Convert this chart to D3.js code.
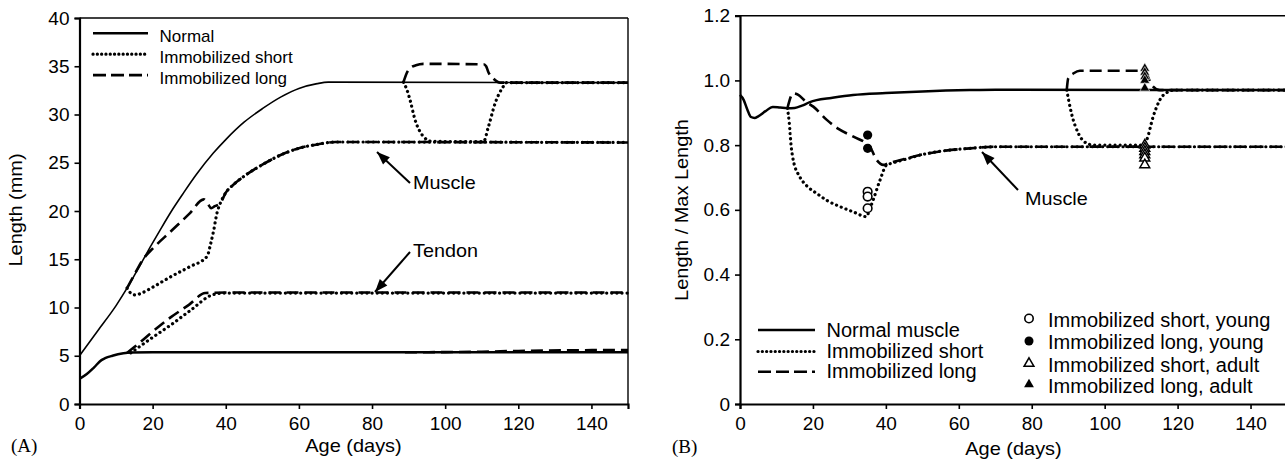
<!DOCTYPE html>
<html><head><meta charset="utf-8">
<script src="https://cdn.jsdelivr.net/npm/d3@7"></script>
<style>body{margin:0;background:#fff}svg{display:block}text{font-family:"Liberation Sans",Arial,sans-serif;fill:#000}</style>
</head><body>
<svg id="c" width="1285" height="459"></svg>
<script>
// ---------- Panel A data (Age days, Length mm) ----------
const normalMuscleA = [[0,5.0],[5,7.6],[10,10.2],[13,12.0],[16,14.0],[19.4,16.3],[22,18.0],[25,19.9],[28.5,21.9],[32,23.8],[36.6,26.0],[40,27.4],[45,29.2],[50,30.6],[55,31.8],[60,32.7],[65,33.2],[68,33.35],[150,33.3]];
const shortYoungA = [[13,12.0],[14,11.5],[15.3,11.3],[17,11.5],[20,12.1],[25,13.2],[30,14.2],[34.9,15.3],[35.8,16.5],[36.7,18.0],[37.6,19.8],[38.5,20.8],[40,21.9],[42,22.7],[45,23.6],[50,24.8],[55,25.8],[60,26.5],[65,26.9],[70,27.15],[150,27.1]];
const longYoungA = [[13,12.0],[15,13.4],[17.6,15.1],[20,16.1],[25,17.9],[30,19.7],[34,21.2],[35,20.8],[36,20.3],[37,20.5],[38.5,20.8],[40,21.9],[42,22.7],[45,23.6],[50,24.8],[55,25.8],[60,26.5],[65,26.9],[70,27.15],[150,27.1]];
const shortAdultA = [[88.6,33.35],[89.5,32.6],[90.4,31.5],[91.8,29.4],[93,28.3],[94.1,27.7],[95.9,27.25],[100,27.2],[110.5,27.2],[111.8,28.7],[113.7,31.2],[115.9,32.9],[116.8,33.3],[150,33.3]];
const longAdultA = [[88.6,33.35],[89.5,34.3],[90.4,34.8],[92,35.1],[94,35.25],[110.5,35.2],[111.2,35.0],[111.8,34.4],[113,33.8],[115,33.3],[150,33.3]];
const normalTendonA = [[0,2.6],[2,3.1],[4,3.8],[6,4.55],[7,4.75],[9,5.0],[12,5.25],[14,5.33],[20,5.35],[150,5.35]];
const shortTendonA = [[14,5.3],[20,6.9],[25,8.2],[30,9.6],[36.7,11.35],[40,11.5],[150,11.5]];
const longTendonA = [[13,5.3],[15,5.9],[20,7.5],[25,9.0],[30,10.3],[34.4,11.5],[40,11.55],[150,11.55]];
const longAdultTendonA = [[89,5.36],[100,5.38],[110,5.42],[120,5.5],[150,5.6]];
const xTicksA = [0,20,40,60,80,100,120,140];
const yTicksA = [0,5,10,15,20,25,30,35,40];

// ---------- Panel B data (Age days, Length / Max Length) ----------
const normalB = [[0,0.955],[1,0.94],[2,0.91],[3,0.887],[4,0.884],[5,0.889],[7,0.905],[9,0.918],[11,0.916],[13,0.914],[15,0.915],[17,0.922],[19,0.932],[21,0.939],[25,0.946],[31,0.955],[40,0.961],[50,0.966],[63,0.970],[70,0.971],[150,0.970]];
const shortYoungB = [[13,0.914],[13.5,0.87],[14,0.80],[14.6,0.754],[16.4,0.702],[18.5,0.672],[21,0.651],[24,0.628],[27.4,0.610],[31,0.594],[34.7,0.579],[35.5,0.60],[36.5,0.63],[38.4,0.692],[40.2,0.739],[41,0.742],[45,0.755],[50,0.771],[55,0.781],[63,0.79],[70,0.795],[150,0.795]];
const longYoungB = [[13,0.914],[14.6,0.96],[16,0.955],[18,0.935],[20.1,0.919],[23.8,0.878],[27,0.85],[31.1,0.826],[35.6,0.795],[37.5,0.754],[39.3,0.739],[40.7,0.744],[45,0.757],[50,0.771],[55,0.781],[63,0.79],[70,0.795],[150,0.795]];
const shortAdultB = [[89.6,0.970],[90.9,0.898],[92.8,0.836],[95,0.806],[97,0.8],[110,0.8],[111.5,0.816],[113.3,0.888],[115.1,0.939],[117.4,0.965],[119,0.97],[150,0.97]];
const longAdultB = [[89.6,0.970],[90,1.006],[91.5,1.022],[93.2,1.030],[108.7,1.030],[110.5,1.03],[111.5,1.02],[112.9,0.986],[115.1,0.970],[150,0.970]];
const shortYoungPts = [[35,0.656],[35,0.641],[35,0.605]];
const longYoungPts = [[35,0.831],[35,0.790]];
const shortAdultPts = [[111,0.80],[111,0.79],[111,0.78],[111,0.77],[111,0.76],[111,0.739]];
const longAdultPts = [[111,1.037],[111,1.025],[111,1.012],[111,1.0],[111,0.976]];
const xTicksB = [0,20,40,60,80,100,120,140];
const yTicksB = [0,0.2,0.4,0.6,0.8,1.0,1.2];

const legendA = ["Normal","Immobilized short","Immobilized long"];
const legendB = ["Normal muscle","Immobilized short","Immobilized long"];
const legendPts = ["Immobilized short, young","Immobilized long, young","Immobilized short, adult","Immobilized long, adult"];

const svg = d3.select("#c");
const STY = {
  solid:{dash:null,w:2,cap:"butt"},
  thin:{dash:null,w:1.6,cap:"butt"},
  thick:{dash:null,w:2.5,cap:"butt"},
  dot:{dash:"0.1,5",w:3.2,cap:"round"},
  dash:{dash:"12,6",w:2.6,cap:"butt"}
};
function txt(g,x,y,s,size,anchor,sx,family,rot){
  const t=g.append("text").attr("font-size",size).attr("text-anchor",anchor||"start")
    .attr("transform",`translate(${x},${y})`+(rot?` rotate(${rot})`:"")+` scale(${sx||1},1)`).text(s);
  if(family) t.style("font-family",family);
  return t;
}
function drawLine(g,x,y,data,st){
  const s=STY[st];
  const line=d3.line().x(d=>x(d[0])).y(d=>y(d[1])).curve(d3.curveMonotoneX);
  const p=g.append("path").datum(data).attr("d",line).attr("fill","none").attr("stroke","#000")
    .attr("stroke-width",s.w).attr("stroke-linecap",s.cap).attr("stroke-linejoin","round");
  if(s.dash) p.attr("stroke-dasharray",s.dash);
}
function frame(g,x,y,xt,yt,fmt){
  const [x0,x1]=x.range(), [y0,y1]=y.range();
  g.append("line").attr("x1",x0).attr("x2",x1).attr("y1",y1).attr("y2",y1).attr("stroke","#000").attr("stroke-width",1.4);
  g.append("line").attr("x1",x1).attr("x2",x1).attr("y1",y1).attr("y2",y0).attr("stroke","#000").attr("stroke-width",1.4);
  const ax=g.append("g").attr("transform",`translate(0,${y0})`).call(d3.axisBottom(x).tickValues(xt).tickSize(5).tickPadding(4));
  const ay=g.append("g").attr("transform",`translate(${x0},0)`).call(d3.axisLeft(y).tickValues(yt).tickSize(5).tickPadding(5).tickFormat(fmt));
  [ax,ay].forEach(a=>{a.select(".domain").attr("stroke-width",2.2);a.selectAll(".tick line").attr("stroke-width",1.6);
    a.selectAll("text").attr("font-size",19).style("font-family","'Liberation Sans',Arial,sans-serif");});
  ax.selectAll("text").attr("dy","0.9em");
}
function arrow(g,x1,y1,x2,y2){
  g.append("line").attr("x1",x1).attr("y1",y1).attr("x2",x2).attr("y2",y2).attr("stroke","#000").attr("stroke-width",2);
  const a=Math.atan2(y2-y1,x2-x1), L=13, W=5;
  const bx=x2-L*Math.cos(a), by=y2-L*Math.sin(a);
  const px=-Math.sin(a)*W, py=Math.cos(a)*W;
  g.append("path").attr("d",`M${x2},${y2}L${bx+px},${by+py}L${bx-px},${by-py}Z`).attr("fill","#000");
}

// ---------- Panel A ----------
{
  const g=svg.append("g");
  const x=d3.scaleLinear().domain([0,150]).range([79.5,628]);
  const y=d3.scaleLinear().domain([0,40]).range([404,18]);
  frame(g,x,y,xTicksA,yTicksA,d3.format("d"));
  drawLine(g,x,y,normalMuscleA,"thin");
  drawLine(g,x,y,normalTendonA,"thick");
  drawLine(g,x,y,shortYoungA,"dot");
  drawLine(g,x,y,shortAdultA,"dot");
  drawLine(g,x,y,shortTendonA,"dot");
  drawLine(g,x,y,longYoungA,"dash");
  drawLine(g,x,y,longAdultA,"dash");
  drawLine(g,x,y,longTendonA,"dash");
  drawLine(g,x,y,longAdultTendonA,"dash");
  // legend
  ["solid","dot","dash"].forEach((st,i)=>{
    const yy=33.3+i*20.9, s=STY[st];
    const l=g.append("line").attr("x1",93).attr("x2",148).attr("y1",yy).attr("y2",yy).attr("stroke","#000")
      .attr("stroke-width",st==="solid"?2.6:s.w).attr("stroke-linecap",s.cap);
    if(s.dash) l.attr("stroke-dasharray",st==="dot"?"0.1,4.2":"13,5");
    txt(g,159.5,yy+8.8,legendA[i],17);
  });
  arrow(g,410,183,377,152);
  txt(g,413,188.5,"Muscle",18,"start",1.1);
  arrow(g,410,252,375,292);
  txt(g,413,256.5,"Tendon",18,"start",1.1);
  txt(g,353.5,452,"Age (days)",19,"middle",1.05);
  txt(g,22,210,"Length (mm)",19,"middle",1.05,null,-90);
  txt(g,11,452,"(A)",19,"start",1,"'Liberation Serif','Times New Roman',serif");
}
// ---------- Panel B ----------
{
  const g=svg.append("g");
  const x=d3.scaleLinear().domain([0,150]).range([740,1287]);
  const y=d3.scaleLinear().domain([0,1.2]).range([404,15.7]);
  frame(g,x,y,xTicksB,yTicksB,d=>d===0?"0":d3.format(".1f")(d));
  drawLine(g,x,y,normalB,"thick");
  drawLine(g,x,y,shortYoungB,"dot");
  drawLine(g,x,y,shortAdultB,"dot");
  drawLine(g,x,y,longYoungB,"dash");
  drawLine(g,x,y,longAdultB,"dash");
  const tri=d3.symbol().type(d3.symbolTriangle).size(42);
  g.selectAll(".oc").data(shortYoungPts).join("circle").attr("cx",d=>x(d[0])).attr("cy",d=>y(d[1])).attr("r",4.3).attr("fill","#fff").attr("stroke","#000").attr("stroke-width",1.6);
  g.selectAll(".fc").data(longYoungPts).join("circle").attr("cx",d=>x(d[0])).attr("cy",d=>y(d[1])).attr("r",4.6).attr("fill","#000");
  g.selectAll(".ot").data(shortAdultPts).join("path").attr("d",tri).attr("transform",d=>`translate(${x(d[0])},${y(d[1])})`).attr("fill","#fff").attr("stroke","#000").attr("stroke-width",1.5);
  g.selectAll(".ft").data(longAdultPts).join("path").attr("d",tri).attr("transform",d=>`translate(${x(d[0])},${y(d[1])})`).attr("fill","#000").attr("stroke","#fff").attr("stroke-width",0.6);
  ["solid","dot","dash"].forEach((st,i)=>{
    const yy=[330,351.5,371.7][i], s=STY[st];
    const l=g.append("line").attr("x1",758).attr("x2",815).attr("y1",yy).attr("y2",yy).attr("stroke","#000")
      .attr("stroke-width",st==="solid"?2.6:s.w).attr("stroke-linecap",s.cap);
    if(s.dash) l.attr("stroke-dasharray",st==="dot"?"0.1,4.2":"13,5");
    txt(g,826.5,yy+6.5,legendB[i],20);
  });
  const ly=[318.5,341,363.5,384.5];
  g.append("circle").attr("cx",1029).attr("cy",ly[0]).attr("r",4.2).attr("fill","#fff").attr("stroke","#000").attr("stroke-width",1.6);
  g.append("circle").attr("cx",1029).attr("cy",ly[1]).attr("r",4.5).attr("fill","#000");
  g.append("path").attr("d",tri).attr("transform",`translate(1029,${ly[2]})`).attr("fill","#fff").attr("stroke","#000").attr("stroke-width",1.5);
  g.append("path").attr("d",tri).attr("transform",`translate(1029,${ly[3]})`).attr("fill","#000");
  legendPts.forEach((s,i)=>txt(g,1048,ly[i]+8,s,20));
  arrow(g,1018,190,982,152);
  txt(g,1025,204.5,"Muscle",18,"start",1.1);
  txt(g,1013.5,455,"Age (days)",19,"middle",1.05);
  txt(g,688,210,"Length / Max Length",19,"middle",1.05,null,-90);
  txt(g,672,453,"(B)",19,"start",1,"'Liberation Serif','Times New Roman',serif");
}
</script>
</body></html>
